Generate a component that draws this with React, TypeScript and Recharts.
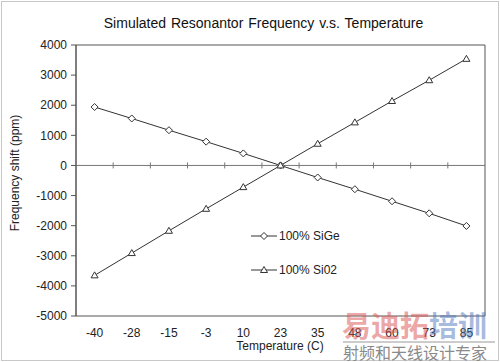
import React from 'react';
import {
  LineChart,
  Line,
  XAxis,
  YAxis,
  ReferenceLine,
  ReferenceArea,
  Legend,
} from 'recharts';

const temperatures = ['-40', '-28', '-15', '-3', '10', '23', '35', '48', '60', '73', '85'];
const sigeShift = [1940, 1560, 1170, 790, 400, 0, -400, -790, -1190, -1590, -2010];
const sio2Shift = [-3650, -2910, -2170, -1440, -720, 0, 720, 1430, 2140, 2830, 3540];
const yTicks = [-5000, -4000, -3000, -2000, -1000, 0, 1000, 2000, 3000, 4000];
const seriesOrder = ['sige', 'sio2'];

const FONT = '"Liberation Sans", Arial, sans-serif';
const INK = '#333';

const data = temperatures.map((t, i) => ({
  temp: t,
  sige: sigeShift[i],
  sio2: sio2Shift[i],
}));

// small hollow markers like the Excel original
const Diamond = (props: any) => {
  const { cx, cy } = props;
  if (cx == null || cy == null) return null;
  return (
    <path
      d={`M${cx},${cy - 3.5}L${cx + 3.5},${cy}L${cx},${cy + 3.5}L${cx - 3.5},${cy}Z`}
      fill="#fff"
      stroke={INK}
      strokeWidth={1}
    />
  );
};

const Triangle = (props: any) => {
  const { cx, cy } = props;
  if (cx == null || cy == null) return null;
  return (
    <path
      d={`M${cx},${cy - 3.5}L${cx + 3.5},${cy + 2.5}L${cx - 3.5},${cy + 2.5}Z`}
      fill="#fff"
      stroke={INK}
      strokeWidth={1}
    />
  );
};

// zero line with "cross" tick marks at the category boundaries
const ZeroAxis = (props: any) => {
  const { x1, x2, y1 } = props;
  const n = temperatures.length;
  const step = (x2 - x1) / n;
  return (
    <g>
      <line x1={x1} x2={x2} y1={y1} y2={y1} stroke="#777" strokeWidth={1} />
      {temperatures.slice(1).map((t, i) => (
        <line
          key={t}
          x1={x1 + step * (i + 1)}
          x2={x1 + step * (i + 1)}
          y1={y1 - 3}
          y2={y1 + 3}
          stroke="#777"
          strokeWidth={1}
        />
      ))}
    </g>
  );
};

const LegendBox = (props: any) => {
  const items = [...(props.payload || [])].sort(
    (a: any, b: any) => seriesOrder.indexOf(a.dataKey) - seriesOrder.indexOf(b.dataKey)
  );
  return (
    <div style={{ fontFamily: FONT, fontSize: 12, color: '#222' }}>
      {items.map((p: any) => (
        <div key={p.value} style={{ display: 'flex', alignItems: 'center', height: 34 }}>
          <svg width={26} height={10} style={{ marginRight: 2 }}>
            <line x1={0} x2={26} y1={5} y2={5} stroke={INK} strokeWidth={1} />
            {p.dataKey === 'sige' ? <Diamond cx={13} cy={5} /> : <Triangle cx={13} cy={5} />}
          </svg>
          <span>{p.value}</span>
        </div>
      ))}
    </div>
  );
};

export default function App() {
  return (
    <div
      style={{
        position: 'absolute',
        left: 0,
        top: 0,
        width: 500,
        height: 362,
        background: '#fff',
        fontFamily: FONT,
      }}
    >
      <div
        style={{
          position: 'absolute',
          left: 1,
          top: 1,
          width: 496,
          height: 358,
          border: '1px solid #c8c8c8',
        }}
      />
      <div
        style={{
          position: 'absolute',
          left: 0,
          top: 15,
          width: 527,
          textAlign: 'center',
          fontSize: 14,
          color: '#111',
          wordSpacing: 1,
        }}
      >
        Simulated Resonantor Frequency v.s. Temperature
      </div>
      <div
        style={{
          position: 'absolute',
          left: 15,
          top: 173,
          transform: 'translate(-50%, -50%) rotate(-90deg)',
          whiteSpace: 'nowrap',
          fontSize: 12,
          color: '#222',
        }}
      >
        Frequency shift (ppm)
      </div>
      <div
        style={{
          position: 'absolute',
          left: 0,
          top: 339,
          width: 560,
          textAlign: 'center',
          fontSize: 12,
          color: '#222',
        }}
      >
        Temperature (C)
      </div>

      <div style={{ position: 'absolute', left: 0, top: 0 }}>
        <LineChart
          width={500}
          height={362}
          data={data}
          margin={{ top: 45, right: 15, bottom: 26, left: 16 }}
        >
          <ReferenceArea
            y1={-5000}
            y2={4000}
            fill="none"
            stroke="#555"
            strokeWidth={1}
            ifOverflow="extendDomain"
          />
          <XAxis
            dataKey="temp"
            scale="band"
            axisLine={false}
            tickLine={false}
            height={20}
            tick={{ fontSize: 12, fill: '#222', fontFamily: FONT }}
            tickMargin={6}
            interval={0}
          />
          <YAxis
            width={60}
            domain={[-5000, 4000]}
            ticks={yTicks}
            interval={0}
            axisLine={{ stroke: '#555' }}
            tickLine={{ stroke: '#555' }}
            tickSize={5}
            tickMargin={4}
            tick={{ fontSize: 12, fill: '#222', fontFamily: FONT }}
          />
          <ReferenceLine y={0} shape={ZeroAxis} />
          <Line
            dataKey="sige"
            name="100% SiGe"
            stroke={INK}
            strokeWidth={1}
            dot={<Diamond />}
            activeDot={false}
            isAnimationActive={false}
          />
          <Line
            dataKey="sio2"
            name="100% Si02"
            stroke={INK}
            strokeWidth={1}
            dot={<Triangle />}
            activeDot={false}
            isAnimationActive={false}
          />
          <Legend
            layout="vertical"
            align="center"
            verticalAlign="middle"
            content={<LegendBox />}
            wrapperStyle={{ position: 'absolute', left: 251, top: 219, width: 120 }}
          />
        </LineChart>
      </div>

      {/* watermark */}
      <div
        style={{
          position: 'absolute',
          left: 342,
          top: 306,
          fontFamily: '"Noto Sans CJK SC", sans-serif',
          fontWeight: 700,
          fontSize: 29,
          lineHeight: '36px',
          whiteSpace: 'nowrap',
        }}
      >
        <span style={{ color: 'rgba(220, 90, 90, 0.55)' }}>易迪拓</span>
        <span style={{ color: 'rgba(80, 120, 190, 0.5)' }}>培训</span>
      </div>
      <div
        style={{
          position: 'absolute',
          left: 343,
          top: 341,
          width: 152,
          borderTop: '2px solid rgba(170,170,170,0.6)',
          fontFamily: '"Noto Sans CJK SC", sans-serif',
          fontSize: 16,
          lineHeight: '19px',
          color: '#8a8a8a',
          whiteSpace: 'nowrap',
        }}
      >
        射频和天线设计专家
      </div>
    </div>
  );
}
